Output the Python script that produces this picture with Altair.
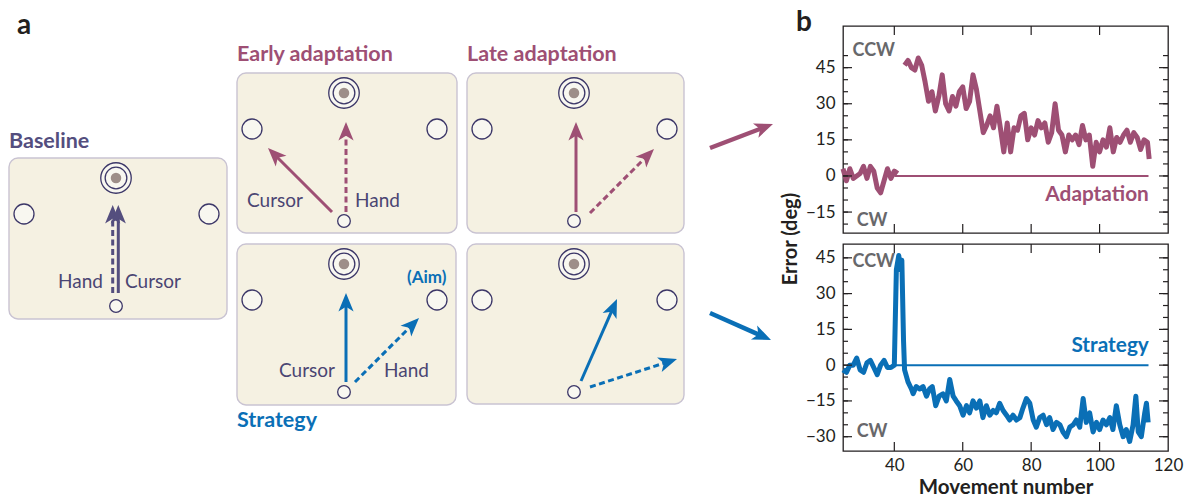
import math
import altair as alt
import pandas as pd

FONT = "Lato"
MAUVE = "#9e4f74"
BLUE = "#0a6fb6"
PURPLE = "#544e7e"
INK = "#4a4573"
BOX_FILL = "#f5f1e2"
BOX_STROKE = "#c9c3d2"
RING = "#3c3768"
RING_FILL = "#f8f7f0"
DOT = "#9d8e89"
AXIS_INK = "#231f20"
GRAY = "#68686b"

# ---------------- panel b data ----------------
adapt_base_x = list(range(25, 42))
adapt_base_y = [3, -2, 3, -1, 0, 1, 4, -1, 4, 2, -5, -7, -2, 3, -1, 2, 1]
adapt_x = list(range(43, 115)) + [114.5]
adapt_y = [46, 48, 45, 44, 49, 46, 39, 31, 35, 27,
           33, 42, 30, 27, 33, 29, 35, 37, 28, 31,
           42, 36, 27, 18, 21, 25, 20, 29, 20, 10,
           22, 10, 20, 19, 25, 26, 15, 20, 17, 23,
           20, 22, 14, 18, 30, 19, 17, 10, 17, 15,
           17, 13, 21, 15, 17, 4, 14, 10, 15, 12,
           20, 10, 16, 14, 17, 19, 14, 18, 16, 11,
           15, 14, 7]
strat_x = [25, 26, 27, 28, 29, 30, 31, 32, 33, 34, 35, 36, 37, 38, 39, 40,
           40.6, 41.3, 41.8, 42.2, 42.7, 43.0, 44.0, 45.0, 45.5, 46.4, 47.4,
           48.4, 49.4, 50.3, 51.1, 52.1, 53.1, 54.2, 55.2, 56.2, 57.2, 58.1,
           59.1, 60.1, 61.1, 62.0, 63.0, 64.0, 65.0, 65.9, 66.9, 67.9, 68.9,
           69.8, 70.8, 71.8, 72.8, 73.7, 74.7, 75.7, 76.7, 77.6, 78.6, 79.6,
           80.6, 81.5, 82.5, 83.5, 84.5, 85.4, 86.4, 87.4, 88.4, 89.3, 90.3,
           91.3, 92.3, 93.2, 94.2, 95.2, 96.1, 97.1, 98.1, 99.1, 100.0, 101.0,
           102.0, 103.0, 103.9, 104.9, 105.9, 106.9, 107.8, 108.8, 109.8,
           110.6, 111.3, 112.2, 113.2, 113.7, 114.2]
strat_y = [-2, -3, 0, 0, 3, -2, -3, 1, 2, -1, -4, 0, 2, -1, -1, 0,
           40, 46, 40, 44, 10, -2, -7, -10, -12, -9, -10,
           -9, -13, -10, -9, -17, -13, -12, -15, -6, -13, -15,
           -17, -21, -17, -20, -15, -18, -15, -22, -17, -21, -19,
           -20, -16, -19, -21, -23, -21, -23, -22, -18, -14, -16,
           -23, -26, -22, -21, -25, -22, -27, -24, -25, -28, -30,
           -26, -25, -23, -26, -14, -24, -20, -28, -24, -27, -23,
           -25, -22, -27, -17, -25, -30, -27, -32, -25,
           -13, -28, -30, -20, -16, -24]
zero_x0, zero_x1 = 40, 114.3

top_domain = [-23.7, 62.3]
bot_domain = [-36, 50.8]
top_major = [-15, 0, 15, 30, 45]
top_minor = [-20, -15, -10, -5, 0, 5, 10, 15, 20, 25, 30, 35, 40, 45, 50]
bot_major = [-30, -15, 0, 15, 30, 45]
bot_minor = [-30, -25, -20, -15, -10, -5, 0, 5, 10, 15, 20, 25, 30, 35, 40, 45]
x_labels = [40, 60, 80, 100, 120]
x_tick_vals = [40, 60, 80, 100]

top_ann = ["CCW", "CW"]
top_ann_x = [27.8, 29.0]
top_ann_y = [49.7, -20.9]
bot_ann = ["CCW", "CW"]
bot_ann_x = [27.8, 29.0]
bot_ann_y = [41.0, -30.1]
top_name, top_name_x, top_name_y = "Adaptation", 114.4, -10.3
bot_name, bot_name_x, bot_name_y = "Strategy", 114.4, 5.6

# ---------------- panel a data (page pixel geometry) ----------------
box_x0 = [9, 237, 467, 237, 467]
box_x1 = [227, 457, 684, 456, 684]
box_y0 = [158, 73, 73, 244, 244]
box_y1 = [319, 233, 233, 405, 404]
target_off = (107, 20)
side_off = [(15, 56), (200, 56)]
start_off = (107, 148)

arrow_x0 = [112.7, 118.3, 332, 346, 576, 590, 346, 355, 581, 590, 710, 710]
arrow_y0 = [293, 293, 212, 212, 212, 213, 382, 382, 381, 387, 148, 313]
arrow_x1 = [112.7, 118.3, 268, 346, 576, 654, 346, 419, 617, 677, 773, 771]
arrow_y1 = [205, 205, 148, 122, 122, 149, 293, 318, 299, 359, 124, 340]
arrow_col = [PURPLE, PURPLE, MAUVE, MAUVE, MAUVE, MAUVE, BLUE, BLUE, BLUE, BLUE, MAUVE, BLUE]
arrow_dash = [True, False, False, True, False, True, False, True, False, True, False, False]
arrow_w = [3, 3, 3, 3, 3, 3, 3, 3, 3, 3, 4.5, 4.5]

panel_letters = ["a", "b"]
letter_x = [17, 796]
letter_y = [12, 9]

title_text = ["Baseline", "Early adaptation", "Late adaptation", "Strategy", "(Aim)"]
title_x = [9, 237, 467, 237, 407]
title_y = [148, 61, 61, 427, 283]
title_col = [PURPLE, MAUVE, MAUVE, BLUE, BLUE]
title_size = [21.5, 21.5, 21.5, 21.5, 17]

word_text = ["Cursor", "Cursor", "Hand", "Cursor", "Hand"]
word_x = [125, 247, 355, 279, 384]
word_y = [288, 207, 207, 377, 377]
hand_right_text, hand_right_x, hand_right_y = "Hand", 103, 288

ylabel_text, ylabel_x, ylabel_y = "Error (deg)", 791, 239

# ---------------- panel a chart ----------------
LW, LH = 835, 480
lx = alt.Scale(domain=[8, 8 + LW], nice=False, zero=False)
ly = alt.Scale(domain=[8, 8 + LH], nice=False, zero=False, reverse=True)


def PX(f):
    return alt.X(f, type="quantitative", scale=lx, axis=None)


def PY(f):
    return alt.Y(f, type="quantitative", scale=ly, axis=None)


boxes = pd.DataFrame({"x0": box_x0, "x1": box_x1, "y0": box_y0, "y1": box_y1})
box_layer = alt.Chart(boxes).mark_rect(
    cornerRadius=9, fill=BOX_FILL, stroke=BOX_STROKE, strokeWidth=1.4
).encode(x=PX("x0"), x2="x1", y=PY("y0"), y2="y1")

targets = pd.DataFrame({"x": [b + target_off[0] for b in box_x0],
                        "y": [b + target_off[1] for b in box_y0]})
sides = pd.DataFrame({"x": [b + o[0] for b in box_x0 for o in side_off],
                      "y": [b + o[1] for b in box_y0 for o in side_off]})
starts = pd.DataFrame({"x": [b + start_off[0] for b in box_x0],
                       "y": [b + start_off[1] for b in box_y0]})


def circles(df, size, fill, stroke, sw):
    kw = dict(shape="circle", size=size, opacity=1, filled=True, fill=fill)
    if stroke:
        kw.update(stroke=stroke, strokeWidth=sw)
    else:
        kw.update(strokeWidth=0)
    return alt.Chart(df).mark_point(**kw).encode(x=PX("x"), y=PY("y"))


ring_outer = circles(targets, 930, RING_FILL, RING, 1.3)
ring_mid = circles(targets, 470, RING_FILL, RING, 1.3)
ring_dot = circles(targets, 110, DOT, None, 0)
side_layer = circles(sides, 400, RING_FILL, RING, 1.3)
start_layer = circles(starts, 160, RING_FILL, RING, 1.3)

HEAD_SIZE = 380
HEAD_R = math.sqrt(HEAD_SIZE) / 2
arr = pd.DataFrame({"x0": arrow_x0, "y0": arrow_y0, "x1": arrow_x1, "y1": arrow_y1,
                    "col": arrow_col, "dash": arrow_dash, "w": arrow_w})
dx = arr["x1"] - arr["x0"]
dy = arr["y1"] - arr["y0"]
ln = (dx ** 2 + dy ** 2) ** 0.5
arr["ux"], arr["uy"] = dx / ln, dy / ln
arr["hx"] = arr["x1"] - arr["ux"] * HEAD_R
arr["hy"] = arr["y1"] - arr["uy"] * HEAD_R
arr["ex"] = arr["x1"] - arr["ux"] * HEAD_R * 1.3
arr["ey"] = arr["y1"] - arr["uy"] * HEAD_R * 1.3
arr["ang"] = [(math.degrees(math.atan2(a, -b)) + 360) % 360 for a, b in zip(dx, dy)]

shaft_solid = alt.Chart(arr[~arr["dash"]]).mark_rule(strokeCap="butt").encode(
    x=PX("x0"), y=PY("y0"), x2="ex", y2="ey",
    color=alt.Color("col:N", scale=None),
    strokeWidth=alt.StrokeWidth("w:Q", scale=None))
shaft_dash = alt.Chart(arr[arr["dash"]]).mark_rule(strokeCap="butt", strokeDash=[6, 3.5]).encode(
    x=PX("x0"), y=PY("y0"), x2="ex", y2="ey",
    color=alt.Color("col:N", scale=None),
    strokeWidth=alt.StrokeWidth("w:Q", scale=None))
ARROW_PATH = "M0,-1L0.78,0.9L0,0.42L-0.78,0.9Z"
heads = alt.Chart(arr).mark_point(shape=ARROW_PATH, size=HEAD_SIZE, filled=True,
                                  opacity=1, strokeWidth=0).encode(
    x=PX("hx"), y=PY("hy"),
    color=alt.Color("col:N", scale=None),
    angle=alt.Angle("ang:Q", scale=None))

letters_layer = alt.Chart(pd.DataFrame({"t": panel_letters, "x": letter_x, "y": letter_y})).mark_text(
    font=FONT, fontWeight="bold", fontSize=28, color=AXIS_INK, align="left",
    baseline="top").encode(x=PX("x"), y=PY("y"), text="t:N")

titles = pd.DataFrame({"t": title_text, "x": title_x, "y": title_y,
                       "c": title_col, "s": title_size})
title_layer = alt.Chart(titles).mark_text(font=FONT, fontWeight="bold", align="left",
                                          baseline="alphabetic").encode(
    x=PX("x"), y=PY("y"), text="t:N",
    color=alt.Color("c:N", scale=None), size=alt.Size("s:Q", scale=None))

words = pd.DataFrame({"t": word_text, "x": word_x, "y": word_y})
word_layer = alt.Chart(words).mark_text(font=FONT, fontSize=19, color=INK, align="left",
                                        baseline="alphabetic").encode(
    x=PX("x"), y=PY("y"), text="t:N")
hand_layer = alt.Chart(pd.DataFrame({"t": [hand_right_text], "x": [hand_right_x],
                                     "y": [hand_right_y]})).mark_text(
    font=FONT, fontSize=19, color=INK, align="right", baseline="alphabetic").encode(
    x=PX("x"), y=PY("y"), text="t:N")
ylabel_layer = alt.Chart(pd.DataFrame({"t": [ylabel_text], "x": [ylabel_x],
                                       "y": [ylabel_y]})).mark_text(
    font=FONT, fontSize=20, fontWeight="bold", color=AXIS_INK, align="center",
    baseline="middle", angle=270).encode(x=PX("x"), y=PY("y"), text="t:N")

left = alt.layer(box_layer, ring_outer, ring_mid, ring_dot, side_layer, start_layer,
                 shaft_solid, shaft_dash, heads, letters_layer, title_layer, word_layer,
                 hand_layer, ylabel_layer).properties(width=LW, height=LH)

# ---------------- panel b charts ----------------
PW, PH = 325, 207
xs = alt.Scale(domain=[25, 120], nice=False, zero=False)


def panel(lines_df, color, ydom, major, minor, ann, ann_x, ann_y, name, nx, ny, show_x):
    ys = alt.Scale(domain=ydom, nice=False, zero=False)
    yax = alt.Axis(values=major, ticks=False, domain=False, grid=False, labelFont=FONT,
                   labelFontSize=17, labelColor=AXIS_INK, labelPadding=8, labelFlush=False,
                   title=None)
    if show_x:
        xax = alt.Axis(values=x_labels, ticks=False, domain=False, grid=False,
                       labelFont=FONT, labelFontSize=17, labelColor=AXIS_INK,
                       labelPadding=6, labelFlush=False, labelOverlap=False,
                       title="Movement number", titleFont=FONT,
                       titleFontSize=20.5, titleFontWeight="bold", titleColor=AXIS_INK,
                       titlePadding=4)
    else:
        xax = None

    def X(f):
        return alt.X(f, type="quantitative", scale=xs, axis=xax)

    def Y(f):
        return alt.Y(f, type="quantitative", scale=ys, axis=yax)

    zero = alt.Chart(pd.DataFrame({"a": [zero_x0], "b": [zero_x1], "y": [0]})).mark_rule(
        color=color, strokeWidth=2).encode(x=X("a"), x2="b", y=Y("y"))
    line = alt.Chart(lines_df).mark_line(color=color, strokeWidth=5, strokeJoin="round").encode(
        x=X("x"), y=Y("y"), detail="seg:N")
    tick_style = dict(color=AXIS_INK, strokeWidth=1.2)
    maj = pd.DataFrame({"v": major})
    mnr = pd.DataFrame({"v": minor})
    xt = pd.DataFrame({"v": x_tick_vals})
    t1 = alt.Chart(maj).mark_rule(**tick_style).encode(y=Y("v"), x=alt.value(0), x2=alt.value(9))
    t2 = alt.Chart(maj).mark_rule(**tick_style).encode(y=Y("v"), x=alt.value(PW), x2=alt.value(PW - 9))
    t3 = alt.Chart(mnr).mark_rule(**tick_style).encode(y=Y("v"), x=alt.value(0), x2=alt.value(5))
    t4 = alt.Chart(mnr).mark_rule(**tick_style).encode(y=Y("v"), x=alt.value(PW), x2=alt.value(PW - 5))
    t5 = alt.Chart(xt).mark_rule(**tick_style).encode(x=X("v"), y=alt.value(0), y2=alt.value(9))
    t6 = alt.Chart(xt).mark_rule(**tick_style).encode(x=X("v"), y=alt.value(PH), y2=alt.value(PH - 9))
    ann_layer = alt.Chart(pd.DataFrame({"t": ann, "x": ann_x, "y": ann_y})).mark_text(
        font=FONT, fontWeight="bold", fontSize=18, color=GRAY, align="left",
        baseline="alphabetic").encode(x=X("x"), y=Y("y"), text="t:N")
    name_layer = alt.Chart(pd.DataFrame({"t": [name], "x": [nx], "y": [ny]})).mark_text(
        font=FONT, fontWeight="bold", fontSize=20.8, color=color, align="right",
        baseline="alphabetic").encode(x=X("x"), y=Y("y"), text="t:N")
    return alt.layer(zero, line, t1, t2, t3, t4, t5, t6, ann_layer, name_layer).properties(
        width=PW, height=PH, view=alt.ViewBackground(stroke=AXIS_INK, strokeWidth=1.3))


top_df = pd.DataFrame({"x": adapt_base_x + adapt_x, "y": adapt_base_y + adapt_y,
                       "seg": ["base"] * len(adapt_base_x) + ["adapt"] * len(adapt_x)})
bot_df = pd.DataFrame({"x": strat_x, "y": strat_y, "seg": ["all"] * len(strat_x)})

top = panel(top_df, MAUVE, top_domain, top_major, top_minor, top_ann, top_ann_x, top_ann_y,
            top_name, top_name_x, top_name_y, False)
bot = panel(bot_df, BLUE, bot_domain, bot_major, bot_minor, bot_ann, bot_ann_x, bot_ann_y,
            bot_name, bot_name_x, bot_name_y, True)

spacer = alt.Chart(pd.DataFrame({"v": [0]})).mark_rule(opacity=0).encode(
    x=alt.value(2), x2=alt.value(3), y=alt.value(3)).properties(width=PW, height=7)

right = alt.vconcat(spacer, top, bot, spacing=11, bounds="flush")

chart = alt.hconcat(left, right, spacing=0, bounds="flush").properties(
    padding=0, background="white"
).configure_view(stroke=None)

chart.save("out.html", embed_options={"renderer": "svg", "actions": False})
